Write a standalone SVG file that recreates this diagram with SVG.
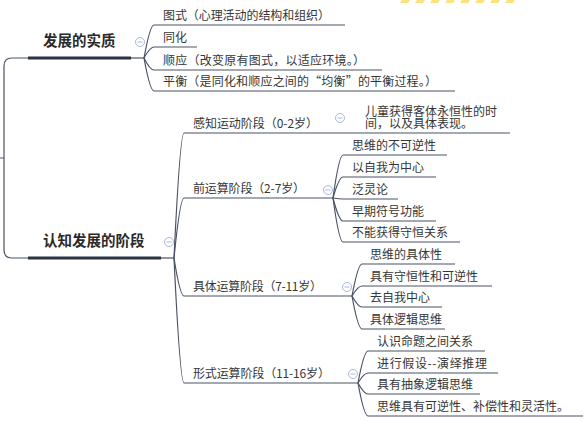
<svg xmlns="http://www.w3.org/2000/svg" width="585" height="421" viewBox="0 0 585 421">
<style>
.t{font-family:"Noto Sans CJK SC","Liberation Sans",sans-serif;font-size:12px;fill:#363636}
.b{font-family:"Noto Sans CJK SC","Liberation Sans",sans-serif;font-size:14.5px;font-weight:bold;fill:#2a2a2a}
.ln{fill:none;stroke:#4b5266;stroke-width:1.2}
.thick{fill:none;stroke:#2b3346;stroke-width:3}
.ic circle{fill:#fff;stroke:#aab8da;stroke-width:1}
.ic line{stroke:#aab8da;stroke-width:1}
.st{fill:#fbe27e}
</style>
<defs>
<g id="icon" class="ic"><circle cx="0" cy="0" r="4.5"/><line x1="-2.5" y1="0" x2="2.5" y2="0"/></g>
</defs>
<g id="stripes">
<polygon class="st" points="402,0 410,0 408,3 400,3"/>
<polygon class="st" points="417,0 425,0 423,3 415,3"/>
<polygon class="st" points="432,0 440,0 438,3 430,3"/>
<polygon class="st" points="447,0 455,0 453,3 445,3"/>
<polygon class="st" points="462,0 470,0 468,3 460,3"/>
<polygon class="st" points="477,0 485,0 483,3 475,3"/>
<polygon class="st" points="492,0 500,0 498,3 490,3"/>
<polygon class="st" points="507,0 515,0 513,3 505,3"/>
</g>
<g id="connectors">
<path class="ln" d="M0,158 H4 M28,58 H12 Q4,58 4,66 V250 Q4,258 12,258 H28"/>
<path class="thick" d="M28,58 H131"/>
<path class="thick" d="M28,258 H161"/>
<path class="ln" d="M131,58 H144"/>
<path class="ln" d="M161,258 H174"/>
<path class="ln" d="M144,58 Q150,25 154,25 H345"/>
<path class="ln" d="M144,58 Q150,47 154,47 H197"/>
<path class="ln" d="M144,58 Q150,70 154,70 H382"/>
<path class="ln" d="M144,58 Q150,91 154,91 H455"/>
<path class="ln" d="M174,258 Q180,133 184,133 H510"/>
<path class="ln" d="M174,258 Q180,198 184,198 H333"/>
<path class="ln" d="M174,258 Q180,296 184,296 H352"/>
<path class="ln" d="M174,258 Q180,383 184,383 H358"/>
<path class="ln" d="M333,198 Q339,155 343,155 H447"/>
<path class="ln" d="M333,198 Q339,177 343,177 H436"/>
<path class="ln" d="M333,198 Q339,199 343,199 H398"/>
<path class="ln" d="M333,198 Q339,221 343,221 H436"/>
<path class="ln" d="M333,198 Q339,242 343,242 H460"/>
<path class="ln" d="M352,296 Q358,264 362,264 H455"/>
<path class="ln" d="M352,296 Q358,286 362,286 H492"/>
<path class="ln" d="M352,296 Q358,307 362,307 H442"/>
<path class="ln" d="M352,296 Q358,329 362,329 H445"/>
<path class="ln" d="M358,383 Q364,351 368,351 H485"/>
<path class="ln" d="M358,383 Q364,373 368,373 H498"/>
<path class="ln" d="M358,383 Q364,394 368,394 H480"/>
<path class="ln" d="M358,383 Q364,416 368,416 H583"/>
</g>
<g id="n-essence"><text class="b" x="43" y="46">发展的实质</text><use href="#icon" x="140" y="42"/></g>
<g id="n-schema"><text class="t" x="163" y="20" textLength="167" lengthAdjust="spacing">图式（心理活动的结构和组织）</text></g>
<g id="n-assim"><text class="t" x="163" y="42">同化</text></g>
<g id="n-accom"><text class="t" x="163" y="65" textLength="202" lengthAdjust="spacing">顺应（改变原有图式，以适应环境。）</text></g>
<g id="n-equil"><text class="t" x="163" y="86" textLength="274" lengthAdjust="spacing">平衡（是同化和顺应之间的“均衡”的平衡过程。）</text></g>
<g id="n-stages"><text class="b" x="43" y="246">认知发展的阶段</text><use href="#icon" x="169" y="242"/></g>
<g id="n-sensor"><text class="t" x="193" y="128" textLength="125" lengthAdjust="spacing">感知运动阶段（0-2岁）</text><use href="#icon" x="340" y="118"/></g>
<g id="n-sensor-1"><text class="t" x="365" y="115.5">儿童获得客体永恒性的时</text><text class="t" x="365" y="128">间，以及具体表现。</text></g>
<g id="n-preop"><text class="t" x="193" y="193" textLength="112" lengthAdjust="spacing">前运算阶段（2-7岁）</text><use href="#icon" x="328" y="190"/></g>
<g id="n-preop-1"><text class="t" x="352" y="150">思维的不可逆性</text></g>
<g id="n-preop-2"><text class="t" x="352" y="172">以自我为中心</text></g>
<g id="n-preop-3"><text class="t" x="352" y="194">泛灵论</text></g>
<g id="n-preop-4"><text class="t" x="352" y="216">早期符号功能</text></g>
<g id="n-preop-5"><text class="t" x="352" y="237">不能获得守恒关系</text></g>
<g id="n-concrete"><text class="t" x="193" y="291" textLength="129" lengthAdjust="spacing">具体运算阶段（7-11岁）</text><use href="#icon" x="347" y="287"/></g>
<g id="n-concrete-1"><text class="t" x="370" y="259">思维的具体性</text></g>
<g id="n-concrete-2"><text class="t" x="370" y="281">具有守恒性和可逆性</text></g>
<g id="n-concrete-3"><text class="t" x="370" y="302">去自我中心</text></g>
<g id="n-concrete-4"><text class="t" x="370" y="324">具体逻辑思维</text></g>
<g id="n-formal"><text class="t" x="193" y="378" textLength="137" lengthAdjust="spacing">形式运算阶段（11-16岁）</text><use href="#icon" x="353" y="374"/></g>
<g id="n-formal-1"><text class="t" x="377" y="346">认识命题之间关系</text></g>
<g id="n-formal-2"><text class="t" x="377" y="368" textLength="110" lengthAdjust="spacing">进行假设--演绎推理</text></g>
<g id="n-formal-3"><text class="t" x="377" y="389">具有抽象逻辑思维</text></g>
<g id="n-formal-4"><text class="t" x="377" y="411">思维具有可逆性、补偿性和灵活性。</text></g>
</svg>
